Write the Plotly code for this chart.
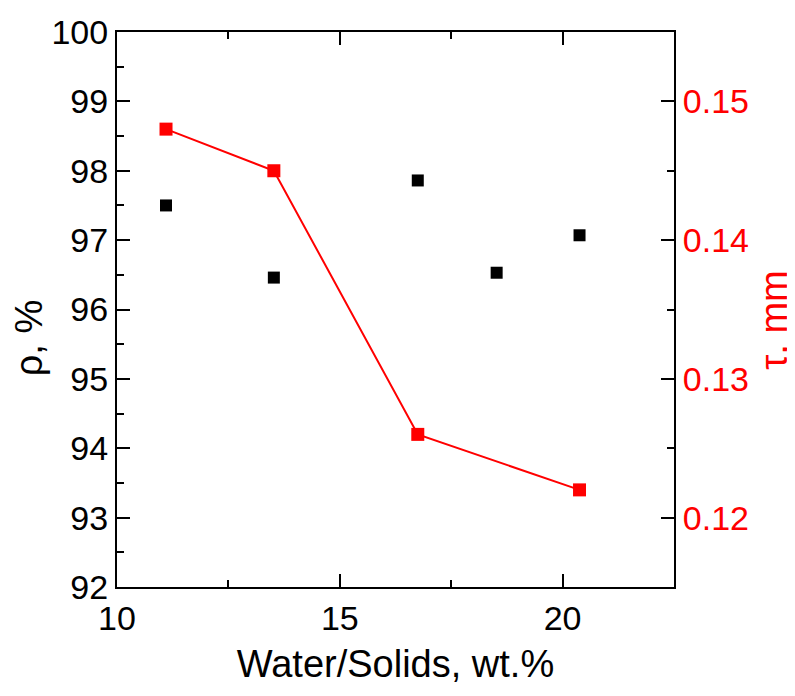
import plotly.graph_objects as go

# Data
rho_x = [11.1, 13.52, 16.75, 18.52, 20.38]
rho_y = [97.5, 96.46, 97.86, 96.53, 97.07]

tau_x = [11.1, 13.52, 16.75, 20.38]
tau_y = [0.148, 0.145, 0.126, 0.122]

x_title = "Water/Solids, wt.%"
y_title = "ρ, %"
y2_title = "τ, mm"

FONT = "Liberation Sans, Arial, sans-serif"
TICK = 34
TITLE = 38

fig = go.Figure()
fig.add_trace(go.Scatter(
    x=rho_x, y=rho_y, mode="markers",
    marker=dict(symbol="square", size=12, color="black"),
    showlegend=False,
))
fig.add_trace(go.Scatter(
    x=tau_x, y=tau_y, mode="lines+markers", yaxis="y2",
    line=dict(color="#ff0000", width=2),
    marker=dict(symbol="square", size=13, color="#ff0000"),
    showlegend=False,
))

fig.update_layout(
    width=795, height=696,
    margin=dict(l=109, r=129, t=24, b=117),
    plot_bgcolor="white", paper_bgcolor="white",
    font=dict(family=FONT, size=TICK, color="black"),
    xaxis=dict(
        range=[10, 22.5], dtick=5, tick0=10, automargin=False,
        showline=True, linecolor="black", linewidth=2, mirror="ticks",
        ticks="inside", ticklen=13, tickwidth=2, tickcolor="black",
        minor=dict(ticks="inside", ticklen=7, tickwidth=2, dtick=2.5, tickcolor="black"),
        showgrid=False, zeroline=False,
        tickfont=dict(size=TICK, family=FONT),
        title=dict(text=x_title, font=dict(size=TITLE, family=FONT)),
    ),
    yaxis=dict(
        range=[92, 100], dtick=1, automargin=False,
        showline=True, linecolor="black", linewidth=2,
        ticks="inside", ticklen=13, tickwidth=2, tickcolor="black",
        minor=dict(ticks="inside", ticklen=7, tickwidth=2, dtick=0.5, tickcolor="black"),
        showgrid=False, zeroline=False,
        tickfont=dict(size=TICK, family=FONT),
    ),
    yaxis2=dict(
        range=[0.115, 0.155], dtick=0.01, tick0=0.12, automargin=False,
        overlaying="y", side="right",
        showline=True, linecolor="black", linewidth=2,
        ticks="inside", ticklen=13, tickwidth=2, tickcolor="black",
        minor=dict(ticks="inside", ticklen=7, tickwidth=2, dtick=0.005, tickcolor="black"),
        showgrid=False, zeroline=False,
        tickformat=".2f",
        tickfont=dict(size=TICK, family=FONT, color="#ff0000"),
    ),
    annotations=[
        dict(text=y_title, xref="paper", yref="paper", x=-0.158, y=0.45,
             xanchor="center", yanchor="middle", textangle=-90, showarrow=False,
             font=dict(size=TITLE, family=FONT, color="black")),
        dict(text=y2_title, xref="paper", yref="paper", x=1.178, y=0.48,
             xanchor="center", yanchor="middle", textangle=-90, showarrow=False,
             font=dict(size=TITLE, family=FONT, color="#ff0000")),
    ],
)

fig.write_html("out.html")
